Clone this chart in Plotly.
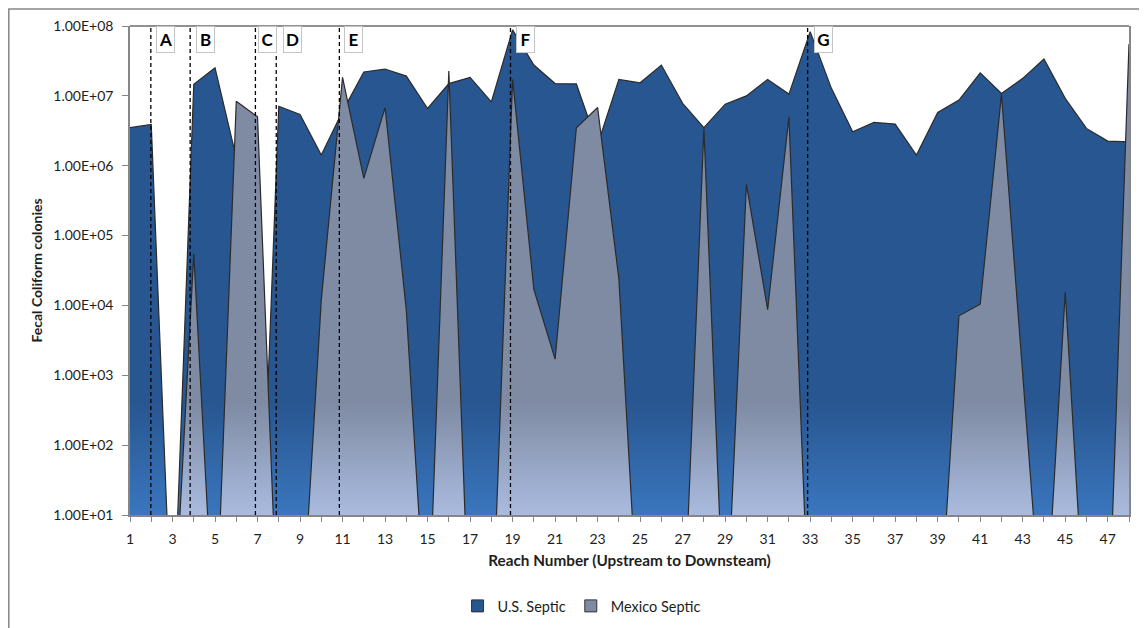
import plotly.graph_objects as go

# ---------------- data ----------------
reaches = list(range(1, 49))

us_septic = [3.5e6, 3.9e6, 0.1, 1.46e7, 2.53e7, 1.3e6, 0.1, 7.1e6, 5.4e6, 1.42e6,
             6.0e6, 2.2e7, 2.42e7, 1.92e7, 6.6e6, 1.5e7, 1.84e7, 8.2e6, 8.8e7, 2.76e7,
             1.5e7, 1.48e7, 2.0e6, 1.72e7, 1.54e7, 2.76e7, 7.8e6, 3.5e6, 7.6e6, 1.0e7,
             1.72e7, 1.06e7, 8.3e7, 1.28e7, 3.06e6, 4.17e6, 3.94e6, 1.42e6, 5.8e6, 8.7e6,
             2.14e7, 1.08e7, 1.78e7, 3.37e7, 9.2e6, 3.42e6, 2.25e6, 2.2e6]

mexico_septic = [0.1, 0.1, 0.1, 5.5e4, 0.1, 8.4e6, 5.0e6, 0.1, 0.1, 1.2e4,
                 1.84e7, 6.6e5, 6.8e6, 8.5e3, 0.1, 2.26e7, 0.1, 0.1, 1.72e7, 1.7e4,
                 1.7e3, 3.5e6, 6.8e6, 2.4e4, 0.1, 0.1, 0.1, 3.4e6, 0.1, 5.4e5,
                 8.7e3, 5.0e6, 0.1, 0.1, 0.1, 0.1, 0.1, 0.1, 0.1, 7.1e3,
                 1.04e4, 1.05e7, 1.0e3, 0.1, 1.56e4, 0.1, 0.1, 5.5e7]

y_tick_values = [1e1, 1e2, 1e3, 1e4, 1e5, 1e6, 1e7, 1e8]
y_tick_labels = ["1.00E+01", "1.00E+02", "1.00E+03", "1.00E+04",
                 "1.00E+05", "1.00E+06", "1.00E+07", "1.00E+08"]
x_tick_labels = [str(r) if r % 2 == 1 else "" for r in reaches]

zone_names = ["A", "B", "C", "D", "E", "F", "G"]
zone_lines = [1.98, 3.83, 6.9, 7.88, 10.85, 18.9, 32.88]
zone_boxes = [2.21, 4.105, 7.04, 8.21, 11.08, 19.16, 33.19]

# ---------------- styles ----------------
FONT = "Lato, 'Open Sans', sans-serif"
US_DARK, US_LIGHT = "#285690", "#3a76be"
MX_DARK, MX_LIGHT = "#7f8ba3", "#aabbdf"
OUTLINE = "#2b2b2b"
AXIS_GRAY = "#868686"
TEXT = "#1e1e1e"

W, H = 1131, 660
ML, MT = 122, 18
PLOT_W, PLOT_H = 999, 489

fig = go.Figure()

fig.add_trace(go.Scatter(
    x=reaches, y=us_septic, mode="lines", fill="tozeroy",
    line=dict(color=OUTLINE, width=1.2),
    fillgradient=dict(type="vertical", start=10, stop=1e8,
                      colorscale=[[0, US_LIGHT], [0.23, US_DARK], [1, US_DARK]]),
    showlegend=False, hoverinfo="skip", name="U.S. Septic"))

fig.add_trace(go.Scatter(
    x=reaches, y=mexico_septic, mode="lines", fill="tozeroy",
    line=dict(color=OUTLINE, width=1.2),
    fillgradient=dict(type="vertical", start=10, stop=1e8,
                      colorscale=[[0, MX_LIGHT], [0.23, MX_DARK], [1, MX_DARK]]),
    showlegend=False, hoverinfo="skip", name="Mexico Septic"))

# legend entries (square swatches)
fig.add_trace(go.Bar(x=[None], y=[None], name="U.S. Septic",
                     marker=dict(color=US_DARK, line=dict(color="#333333", width=1))))
fig.add_trace(go.Bar(x=[None], y=[None], name="Mexico Septic",
                     marker=dict(color=MX_DARK, line=dict(color="#333333", width=1))))

shapes = []
for xl in zone_lines:
    shapes.append(dict(type="line", xref="x", yref="paper", x0=xl, x1=xl, y0=0, y1=1,
                       line=dict(color="black", width=1.3, dash="4px,3px"), layer="above"))
# top border of plot area
shapes.append(dict(type="line", xref="paper", yref="paper", x0=0, x1=1, y0=1, y1=1,
                   line=dict(color="#222222", width=1), layer="above"))
# chart area border (left and top edges visible)
shapes.append(dict(type="rect", xref="paper", yref="paper",
                   x0=(0.8 - ML) / PLOT_W, x1=1.1, y0=-0.4,
                   y1=(MT + PLOT_H - 1) / PLOT_H,
                   line=dict(color=AXIS_GRAY, width=1.5), fillcolor="rgba(0,0,0,0)",
                   layer="below"))

annotations = []
for name, xb in zip(zone_names, zone_boxes):
    annotations.append(dict(
        text="<b>%s</b>" % name, x=xb, y=1, xref="x", yref="paper",
        xanchor="left", yanchor="top", showarrow=False,
        font=dict(family=FONT, size=17, color="black"),
        bgcolor="white", bordercolor="#c4c4c4", borderwidth=1, borderpad=1,
        width=15, height=23, align="center", valign="middle"))

fig.update_layout(
    width=W, height=H,
    margin=dict(l=ML, r=W - ML - PLOT_W, t=MT, b=H - MT - PLOT_H),
    paper_bgcolor="white", plot_bgcolor="white",
    font=dict(family=FONT, size=14, color=TEXT),
    shapes=shapes, annotations=annotations,
    legend=dict(orientation="h", x=0.452, xanchor="center", y=-0.186, yanchor="middle",
                font=dict(family=FONT, size=14.5, color=TEXT),
                itemwidth=30, bgcolor="rgba(0,0,0,0)"),
    xaxis=dict(
        range=[1, 48], tickmode="array", tickvals=reaches, ticktext=x_tick_labels,
        ticks="outside", ticklen=5, tickcolor=AXIS_GRAY, tickwidth=1,
        showline=True, linecolor=AXIS_GRAY, linewidth=2, mirror=False,
        showgrid=False, zeroline=False, ticklabelstandoff=5, automargin=False,
        tickfont=dict(family=FONT, size=14, color=TEXT),
        title=dict(text="<b>Reach Number (Upstream to Downsteam)</b>", standoff=9,
                   font=dict(family=FONT, size=15.3, color=TEXT))),
    yaxis=dict(
        type="log", range=[1, 8], tickmode="array", tickvals=y_tick_values,
        ticktext=y_tick_labels, ticks="outside", ticklen=6, tickcolor=AXIS_GRAY,
        showline=True, linecolor=AXIS_GRAY, linewidth=1.5, mirror=True,
        showgrid=False, zeroline=False, ticklabelstandoff=6, automargin=False,
        tickfont=dict(family=FONT, size=14, color=TEXT),
        title=dict(text="<b>Fecal Coliform colonies</b>", standoff=7,
                   font=dict(family=FONT, size=14, color=TEXT))),
)

fig.write_html("out.html")
